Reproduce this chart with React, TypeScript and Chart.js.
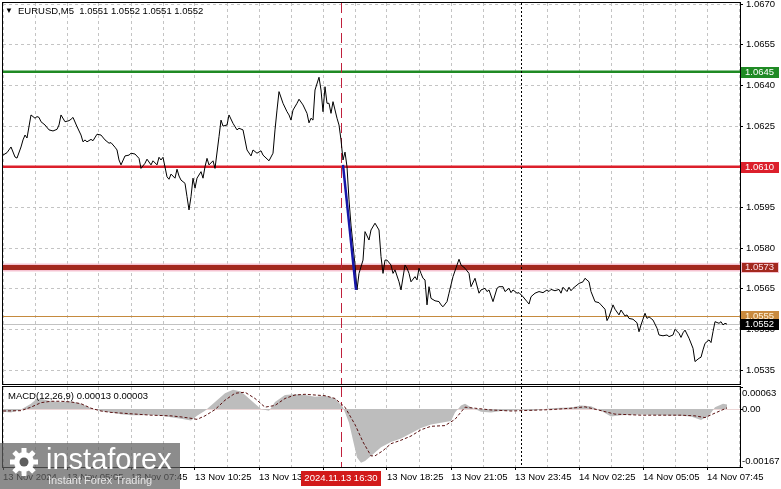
import React, { useEffect, useRef } from "react";
import { Chart, registerables } from "chart.js";

Chart.register(...registerables);

const FONT = "'Liberation Sans', Arial, sans-serif";
const GRID = "#c4c4c4";

// ---- texts ----
const symbolTitle = "EURUSD,M5  1.0551 1.0552 1.0551 1.0552";
const macdTitle = "MACD(12,26,9) 0.00013 0.00003";

// ---- time axis (bar index = 5-minute bars from 13 Nov 02:25) ----
const timeLabels = [
  "13 Nov 2024", "13 Nov 05:05", "13 Nov 07:45", "13 Nov 10:25", "13 Nov 13:05", "13 Nov 15:45",
  "13 Nov 18:25", "13 Nov 21:05", "13 Nov 23:45", "14 Nov 02:25", "14 Nov 05:05", "14 Nov 07:45",
];
const labelStep = 32;
const gridBars = [0, 16, 32, 48, 64, 80, 96, 112, 128, 144, 160, 176, 192, 208, 224, 240, 256, 272, 288, 304, 320, 336, 352, 368];
const barMin = 0;
const barMax = 368.5;
const eventBar = 169;
const eventLabel = "2024.11.13 16:30";
const dayBar = 259;

// ---- price axis ----
const priceMin = 1.052993;
const priceMax = 1.067037;
const priceTicks = [1.0535, 1.055, 1.0565, 1.058, 1.0595, 1.061, 1.0625, 1.064, 1.0655, 1.067];

// ---- price series ----
const priceBars = [
  0, 2, 4, 6, 7, 9, 10, 11, 12, 14, 16, 17, 18, 19, 21, 23, 25, 27, 28, 29, 31, 33, 34, 35, 37, 39, 40, 41, 42, 44,
  45, 47, 49, 51, 53, 54, 56, 57, 58, 59, 61, 63, 64, 66, 68, 69, 71, 72, 74, 75, 77, 78, 79, 80, 82, 83, 84, 86, 87, 88,
  89, 91, 92, 93, 94, 95, 96, 97, 99, 100, 101, 102, 103, 105, 106, 108, 109, 110, 112, 113, 115, 117, 118, 120, 122, 124,
  125, 127, 129, 130, 133, 135, 136, 137, 138, 140, 142, 143, 144, 145, 147, 148, 150, 152, 153, 154, 155, 156, 158, 159,
  160, 161, 162, 163, 164, 165, 167, 168, 169, 170, 171, 172, 173, 174, 175, 176, 177, 178, 180, 181, 183, 184, 186, 188,
  189, 190, 191, 192, 194, 195, 196, 198, 199, 201, 202, 203, 204, 206, 207, 208, 209, 210, 211, 212, 213, 214, 216, 218,
  219, 220, 222, 223, 225, 227, 228, 229, 231, 233, 234, 236, 238, 239, 241, 242, 243, 245, 247, 248, 250, 251, 253, 254,
  255, 257, 258, 260, 262, 263, 264, 266, 268, 270, 272, 273, 274, 276, 278, 279, 280, 282, 283, 284, 285, 286, 288, 290,
  291, 293, 294, 296, 298, 299, 301, 302, 303, 305, 306, 308, 309, 311, 312, 313, 315, 317, 318, 319, 321, 322, 323, 325,
  327, 328, 330, 332, 333, 335, 336, 338, 339, 340, 341, 343, 345, 346, 348, 349, 350, 351, 353, 354, 355, 356, 358, 359,
  360, 361, 362,
];
const priceValues = [
  1.06143, 1.06152, 1.06173, 1.06136, 1.06132, 1.06173, 1.06199, 1.06217, 1.06206, 1.06291, 1.06279, 1.06285, 1.06282, 1.06266, 1.06254, 1.06236, 1.06232, 1.06238, 1.06254, 1.06291, 1.06266, 1.0627, 1.06275, 1.06282, 1.06248, 1.06217, 1.06192, 1.06199, 1.06192, 1.06201,
  1.06196, 1.0622, 1.06217, 1.06199, 1.06187, 1.06189, 1.06172, 1.06162, 1.06125, 1.06107, 1.0614, 1.06143, 1.0615, 1.06147, 1.06131, 1.06094, 1.06113, 1.06128, 1.06107, 1.06122, 1.06107, 1.06135, 1.06125, 1.06135, 1.06063, 1.06054, 1.06073, 1.06058, 1.06091, 1.06066,
  1.06051, 1.06039, 1.0599, 1.05941, 1.0599, 1.06058, 1.06021, 1.06058, 1.06082, 1.06058, 1.061, 1.06131, 1.06107, 1.06122, 1.06094, 1.06211, 1.06272, 1.0625, 1.06254, 1.06291, 1.0626, 1.06236, 1.06242, 1.06236, 1.06162, 1.0614,
  1.06162, 1.0615, 1.06159, 1.06143, 1.06122, 1.0615, 1.06236, 1.06309, 1.06377, 1.06334, 1.06303, 1.06291, 1.06272, 1.06309, 1.06334, 1.06349, 1.06328, 1.06297, 1.06262, 1.06279, 1.06272, 1.06383, 1.0643, 1.06383,
  1.06303, 1.06395, 1.06334, 1.06334, 1.06297, 1.0634, 1.06279, 1.06254, 1.06199, 1.06125, 1.06154, 1.061, 1.05978, 1.05885, 1.05812, 1.05738, 1.05646, 1.05707, 1.05756, 1.05861, 1.0583, 1.05867, 1.05892, 1.05867,
  1.05769, 1.05707, 1.05756, 1.05756, 1.05738, 1.05707, 1.0572, 1.05676, 1.05646, 1.05738, 1.05726, 1.05707, 1.05676, 1.05695, 1.05683, 1.05726, 1.05707, 1.05689, 1.05683, 1.05591, 1.05658, 1.05615, 1.05606, 1.05603,
  1.05591, 1.05584, 1.05603, 1.05634, 1.05695, 1.05738, 1.05759, 1.05738, 1.05726, 1.05707, 1.05658, 1.05689, 1.05634, 1.05646, 1.05652, 1.0564, 1.05646, 1.05603, 1.05652, 1.05658, 1.05658, 1.0564, 1.05652, 1.05636,
  1.05646, 1.05634, 1.05636, 1.05621, 1.05603, 1.05594, 1.05621, 1.05634, 1.0564, 1.05636, 1.05646, 1.0564, 1.05648, 1.05643, 1.05648, 1.05634, 1.05656, 1.0564, 1.05656, 1.05643, 1.05652, 1.05658, 1.0567, 1.05676,
  1.05689, 1.05676, 1.0564, 1.05603, 1.05599, 1.05591, 1.05575, 1.05533, 1.05547, 1.05591, 1.05575, 1.05554, 1.05572, 1.0555, 1.05554, 1.05541, 1.05538, 1.05525, 1.05492, 1.05517, 1.0556, 1.05541, 1.05547, 1.05535,
  1.05505, 1.0548, 1.05477, 1.0548, 1.05474, 1.0548, 1.05501, 1.05486, 1.05471, 1.05488, 1.05498, 1.05468, 1.05431, 1.05382, 1.05394, 1.05398, 1.05425, 1.05449, 1.05462, 1.05452, 1.05492, 1.05529, 1.05523, 1.05529,
  1.05517, 1.05523, 1.0552,
];

// ---- blue trend line ----
const trendBars = [170, 176.5];
const trendValues = [1.06107, 1.05646];

// ---- horizontal levels ----
const levelValues = [1.0645, 1.061, 1.0573, 1.0555, 1.0552];
const levelLabels = ["1.0645", "1.0610", "1.0573", "1.0555", "1.0552"];
const levelStyles = [
  { line: "#1f8a24", width: 2.5, boxBg: "#1f8a24", boxText: "#ffffff" },
  { line: "#dc1f2b", width: 2.5, boxBg: "#dc1f2b", boxText: "#ffffff" },
  { line: "#a3281e", width: 5, halo: "#f6c3d2", haloWidth: 8, boxBg: "#a3281e", boxText: "#ffe2ea", boxBorder: "#f6c3d2" },
  { line: "#c58a3e", width: 1, boxBg: "#c98a3e", boxText: "#fff3da" },
  { line: "#c2c2c2", width: 1, boxBg: "#000000", boxText: "#ffffff" },
];

// ---- MACD ----
const macdMin = -0.00167;
const macdMax = 0.00063;
const macdTicks = [0.00063, 0, -0.00167];
const macdTickLabels = ["0.00063", "0.00", "-0.00167"];
const macdBars = [
  0, 4, 9, 14, 17, 20, 24, 29, 34, 39, 44, 49, 54, 59, 64, 69, 74, 79, 84, 89,
  94, 97, 101, 106, 111, 115, 119, 124, 129, 133, 136, 141, 146, 151, 156, 161, 166, 170, 173, 175,
  177, 179, 181, 185, 189, 194, 199, 204, 209, 214, 219, 224, 226, 229, 231, 234, 239, 244, 249, 254,
  259, 264, 269, 274, 279, 284, 289, 294, 299, 304, 309, 319, 329, 339, 344, 349, 353, 356, 360, 362,
];
const macdValues = [
  -0.00008, -0.0001, -0.00002, 0.00015, 0.0003, 0.00028, 0.00022, 0.0002, 0.00022, 0.00015, 0.00002, -0.00006, -0.0001, -0.00015, -0.00018, -0.00018, -0.00017, -0.0002, -0.00024, -0.00028,
  -0.00033, -0.0002, -0.00005, 0.0002, 0.00045, 0.00055, 0.0005, 0.00025, 0.0, -0.00005, 0.0002, 0.0004, 0.00042, 0.0004, 0.00035, 0.00038, 0.0003, 0.00005, -0.0004, -0.0009,
  -0.0014, -0.00155, -0.0015, -0.0013, -0.0011, -0.00095, -0.00085, -0.0007, -0.00055, -0.00045, -0.0004, -0.00035, -0.0001, 0.0001, 0.00015, 0.00005, -0.00008, -0.0001, -0.00006, -0.00005,
  -0.00002, -0.00005, -0.00002, 0.00002, 0.00003, 0.00004, 0.0001, 0.00008, -0.00005, -0.00022, -0.00018, -0.00016, -0.00018, -0.0002, -0.00022, -0.00032, -0.0002, 0.00005, 0.00015, 0.00013,
];
const signalBars = [
  0, 9, 14, 19, 24, 29, 34, 39, 44, 49, 54, 59, 64, 69, 74, 79, 84, 89, 94, 97,
  101, 106, 111, 116, 121, 126, 131, 136, 141, 146, 151, 156, 161, 166, 171, 176, 180, 184, 186, 190,
  194, 199, 204, 209, 214, 221, 226, 231, 236, 244, 254, 264, 274, 284, 291, 299, 306, 319, 329, 339,
  346, 351, 356, 362,
];
const signalValues = [
  -0.00006, -0.00005, 0.00005, 0.00018, 0.00022, 0.00022, 0.0002, 0.00015, 0.00002, -0.00006, -0.0001, -0.00012, -0.00014, -0.00016, -0.00018, -0.00019, -0.0002, -0.00023, -0.00027, -0.0003,
  -0.0002, -0.00002, 0.00025, 0.00045, 0.00048, 0.0003, 0.00005, 0.0001, 0.0003, 0.0004, 0.00042, 0.0004, 0.00038, 0.0003, 0.00005, -0.00045, -0.00095, -0.00135, -0.00135, -0.0012,
  -0.001, -0.0009, -0.00078, -0.0006, -0.0005, -0.00048, -0.0003, 0.00005, 0.00002, -0.00003, -0.00006, -0.00004, -0.00002, 0.00002, 0.00006, -0.00005, -0.00015, -0.00018, -0.00018, -0.00018,
  -0.0002, -0.00025, -0.00012, 0.00003,
];

const watermarkBrand = "instaforex";
const watermarkSlogan = "Instant Forex Trading";

const pts = (xs: number[], ys: number[]) => xs.map((x, i) => ({ x, y: ys[i] }));

function vLine(ctx: any, px: number, top: number, bottom: number, color: string, dash: number[]) {
  const x = Math.round(px) + 0.5;
  ctx.save();
  ctx.strokeStyle = color;
  ctx.lineWidth = 1;
  ctx.setLineDash(dash);
  ctx.beginPath();
  ctx.moveTo(x, top);
  ctx.lineTo(x, bottom);
  ctx.stroke();
  ctx.restore();
}

function xScale(withLabels: boolean): any {
  return {
    type: "linear",
    min: barMin,
    max: barMax,
    afterBuildTicks: (s: any) => {
      s.ticks = gridBars.map((v) => ({ value: v }));
    },
    afterFit: (s: any) => {
      s.height = withLabels ? 22 : 0;
      s.paddingLeft = 0;
      s.paddingRight = 0;
    },
    grid: {
      color: GRID,
      lineWidth: 1,
      drawTicks: withLabels,
      tickLength: 3,
      tickColor: (c: any) => (c.tick && c.tick.value % labelStep === 0 ? "#000" : "rgba(0,0,0,0)"),
    },
    border: { display: false, dash: [3, 3] },
    ticks: {
      display: withLabels,
      autoSkip: false,
      maxRotation: 0,
      minRotation: 0,
      align: "start",
      padding: 2,
      color: "#000",
      font: { family: FONT, size: 9.5 },
      callback: (v: any) => (v % labelStep === 0 ? timeLabels[v / labelStep] ?? "" : ""),
    },
  };
}

const EVENT_COLOR = "#c0203c";

const mainDecor = {
  id: "mainDecor",
  beforeDatasetsDraw(chart: any) {
    const { ctx, chartArea: a, scales } = chart;
    const y = scales.y;
    const x = scales.x;
    ctx.save();
    ctx.beginPath();
    ctx.rect(a.left, a.top, a.right - a.left, a.bottom - a.top);
    ctx.clip();
    levelValues.forEach((v, i) => {
      const st: any = levelStyles[i];
      let py = y.getPixelForValue(v);
      if (st.width === 1 || st.width === 5) py = Math.round(py) + 0.5;
      if (st.halo) {
        ctx.strokeStyle = st.halo;
        ctx.lineWidth = st.haloWidth;
        ctx.beginPath();
        ctx.moveTo(a.left, py);
        ctx.lineTo(a.right, py);
        ctx.stroke();
      }
      ctx.strokeStyle = st.line;
      ctx.lineWidth = st.width;
      ctx.beginPath();
      ctx.moveTo(a.left, py);
      ctx.lineTo(a.right, py);
      ctx.stroke();
    });
    ctx.restore();
    vLine(ctx, x.getPixelForValue(eventBar), a.top, a.bottom, EVENT_COLOR, [10, 5]);
    vLine(ctx, x.getPixelForValue(dayBar), a.top, a.bottom, "#000000", [2, 2]);
  },
  afterDraw(chart: any) {
    const { ctx, chartArea: a, scales } = chart;
    const y = scales.y;
    ctx.save();
    ctx.strokeStyle = "#000";
    ctx.lineWidth = 1;
    ctx.setLineDash([]);
    ctx.strokeRect(a.left - 0.5, a.top - 0.5, a.right - a.left + 1, a.bottom - a.top + 1);
    // title
    ctx.fillStyle = "#000";
    ctx.textBaseline = "middle";
    ctx.font = `8px ${FONT}`;
    ctx.fillText("▼", 5, 11);
    ctx.font = `9.5px ${FONT}`;
    ctx.fillText(symbolTitle, 18, 11);
    // level boxes
    levelValues.forEach((v, i) => {
      const st: any = levelStyles[i];
      const py = Math.round(y.getPixelForValue(v));
      ctx.fillStyle = st.boxBg;
      ctx.fillRect(a.right + 1, py - 5, 38, 11);
      if (st.boxBorder) {
        ctx.strokeStyle = st.boxBorder;
        ctx.strokeRect(a.right + 1.5, py - 4.5, 37, 10);
      }
      ctx.fillStyle = st.boxText;
      ctx.font = `9.5px ${FONT}`;
      ctx.textBaseline = "middle";
      ctx.fillText(levelLabels[i], a.right + 5, py + 0.5);
    });
    ctx.restore();
  },
};

const macdDecor = {
  id: "macdDecor",
  beforeDatasetsDraw(chart: any) {
    const { ctx, chartArea: a, scales } = chart;
    const x = scales.x;
    const y = scales.y;
    const zy = Math.round(y.getPixelForValue(0)) + 0.5;
    ctx.save();
    ctx.strokeStyle = "#ecd6d6";
    ctx.lineWidth = 1;
    ctx.beginPath();
    ctx.moveTo(a.left, zy);
    ctx.lineTo(a.right, zy);
    ctx.stroke();
    ctx.restore();
    vLine(ctx, x.getPixelForValue(eventBar), a.top, a.bottom, EVENT_COLOR, [10, 5]);
    vLine(ctx, x.getPixelForValue(dayBar), a.top, a.bottom, "#000000", [2, 2]);
  },
  afterDraw(chart: any) {
    const { ctx, chartArea: a, scales } = chart;
    const x = scales.x;
    const y = scales.y;
    ctx.save();
    ctx.strokeStyle = "#000";
    ctx.lineWidth = 1;
    ctx.setLineDash([]);
    ctx.strokeRect(a.left - 0.5, a.top - 0.5, a.right - a.left + 1, a.bottom - a.top + 1);
    ctx.fillStyle = "#000";
    ctx.font = `9.5px ${FONT}`;
    ctx.textBaseline = "middle";
    ctx.fillText(macdTitle, 8, a.top + 9);
    // y labels
    macdTicks.forEach((v, i) => {
      const py = y.getPixelForValue(v);
      ctx.strokeStyle = "#000";
      ctx.beginPath();
      const ty = Math.round(py) + 0.5;
      ctx.moveTo(a.right, ty);
      ctx.lineTo(a.right + 3, ty);
      ctx.stroke();
      ctx.textBaseline = i === 0 ? "top" : i === macdTicks.length - 1 ? "bottom" : "middle";
      const dy = i === 0 ? 2 : i === macdTicks.length - 1 ? -1 : 0.5;
      ctx.fillText(macdTickLabels[i], a.right + 2, py + dy);
    });
    // event time box
    const ex = x.getPixelForValue(eventBar);
    ctx.font = `9.5px ${FONT}`;
    const w = ctx.measureText(eventLabel).width + 7;
    ctx.fillStyle = "#d21a1a";
    ctx.fillRect(Math.round(ex - w / 2), a.bottom + 4, Math.round(w), 15);
    ctx.fillStyle = "#ffffff";
    ctx.textAlign = "center";
    ctx.textBaseline = "middle";
    ctx.fillText(eventLabel, ex, a.bottom + 11.5);
    ctx.textAlign = "left";
    // watermark
    const wy = chart.height - 46;
    ctx.fillStyle = "rgba(95,95,95,0.72)";
    ctx.fillRect(0, wy, 180, 46);
    const cx = 24;
    const cy = wy + 19;
    ctx.fillStyle = "#ffffff";
    for (let k = 0; k < 8; k++) {
      ctx.save();
      ctx.translate(cx, cy);
      ctx.rotate((k * Math.PI) / 4);
      ctx.fillRect(-2.5, -14, 5, 6);
      ctx.restore();
    }
    ctx.beginPath();
    ctx.arc(cx, cy, 10, 0, Math.PI * 2);
    ctx.fill();
    ctx.fillStyle = "rgba(95,95,95,1)";
    ctx.beginPath();
    ctx.arc(cx, cy, 4.5, 0, Math.PI * 2);
    ctx.fill();
    ctx.fillStyle = "#ffffff";
    ctx.font = `29px ${FONT}`;
    ctx.textBaseline = "alphabetic";
    ctx.fillText(watermarkBrand, 46, wy + 26);
    ctx.fillStyle = "#e6e6e6";
    ctx.font = `11px ${FONT}`;
    ctx.fillText(watermarkSlogan, 48, wy + 41);
    ctx.restore();
  },
};

export default function App() {
  const mainRef = useRef<HTMLCanvasElement>(null);
  const macdRef = useRef<HTMLCanvasElement>(null);

  useEffect(() => {
    Chart.defaults.font.family = FONT;
    const main = new Chart(mainRef.current as HTMLCanvasElement, {
      type: "line",
      data: {
        datasets: [
          {
            data: pts(trendBars, trendValues),
            borderColor: "#1616a8",
            borderWidth: 2.5,
            pointRadius: 0,
            tension: 0,
          },
          {
            data: pts(priceBars, priceValues),
            borderColor: "#000000",
            borderWidth: 1,
            pointRadius: 0,
            tension: 0,
          },
        ],
      } as any,
      options: {
        animation: false,
        responsive: false,
        devicePixelRatio: 1,
        events: [],
        layout: { padding: { top: 3, left: 3, right: 0, bottom: 2 }, autoPadding: false } as any,
        plugins: { legend: { display: false }, tooltip: { enabled: false } },
        scales: {
          x: xScale(false),
          y: {
            type: "linear",
            position: "right",
            min: priceMin,
            max: priceMax,
            afterBuildTicks: (s: any) => {
              s.ticks = priceTicks.map((v) => ({ value: v }));
            },
            afterFit: (s: any) => {
              s.width = 41;
              s.paddingTop = 0;
              s.paddingBottom = 0;
            },
            grid: { color: GRID, drawTicks: true, tickLength: 3, tickColor: "#000" },
            border: { display: false, dash: [3, 3] },
            ticks: {
              padding: 3,
              color: "#000",
              font: { family: FONT, size: 9.5 },
              callback: (v: any) => Number(v).toFixed(4),
            },
          } as any,
        },
      } as any,
      plugins: [mainDecor],
    });

    const macd = new Chart(macdRef.current as HTMLCanvasElement, {
      type: "line",
      data: {
        datasets: [
          {
            data: pts(signalBars, signalValues),
            borderColor: "#5a1212",
            borderWidth: 1,
            borderDash: [3, 2],
            pointRadius: 0,
            tension: 0,
            fill: false,
          },
          {
            data: pts(macdBars, macdValues),
            borderColor: "rgba(0,0,0,0)",
            borderWidth: 0,
            backgroundColor: "#bdbdbd",
            pointRadius: 0,
            tension: 0,
            fill: "origin",
          },
        ],
      } as any,
      options: {
        animation: false,
        responsive: false,
        devicePixelRatio: 1,
        events: [],
        layout: { padding: { top: 1, left: 3, right: 0, bottom: 0 }, autoPadding: false } as any,
        plugins: { legend: { display: false }, tooltip: { enabled: false } },
        scales: {
          x: xScale(true),
          y: {
            type: "linear",
            position: "right",
            min: macdMin,
            max: macdMax,
            afterBuildTicks: (s: any) => {
              s.ticks = macdTicks.map((v) => ({ value: v }));
            },
            afterFit: (s: any) => {
              s.width = 41;
              s.paddingTop = 0;
              s.paddingBottom = 0;
            },
            grid: { display: false },
            border: { display: false },
            ticks: { display: false },
          } as any,
        },
      } as any,
      plugins: [macdDecor],
    });

    return () => {
      main.destroy();
      macd.destroy();
    };
  }, []);

  return (
    <div style={{ position: "absolute", left: 0, top: 0, width: 781, height: 489, background: "#ffffff", overflow: "hidden" }}>
      <canvas ref={mainRef} width={781} height={386} style={{ position: "absolute", left: 0, top: 0, display: "block" }} />
      <canvas ref={macdRef} width={781} height={103} style={{ position: "absolute", left: 0, top: 386, display: "block" }} />
    </div>
  );
}
